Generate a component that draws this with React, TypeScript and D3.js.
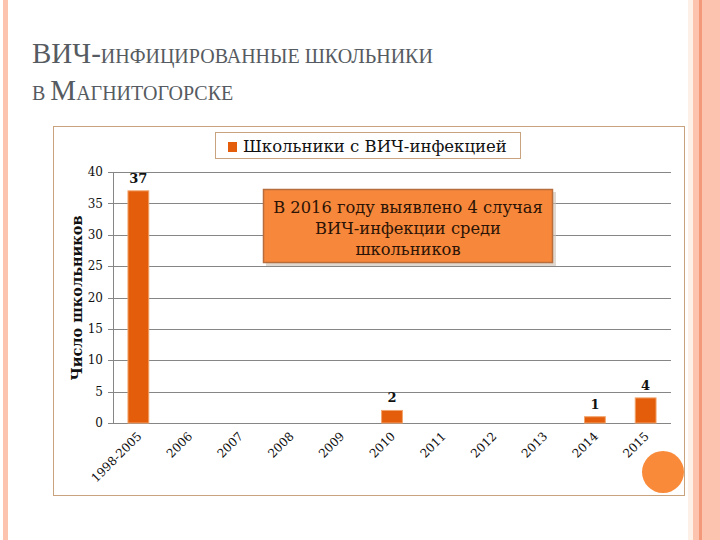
import { useRef, useEffect } from 'react';
import * as d3 from 'd3';

const categories = ['1998-2005', '2006', '2007', '2008', '2009', '2010', '2011', '2012', '2013', '2014', '2015'];
const values = [37, 0, 0, 0, 0, 2, 0, 0, 0, 1, 4];
const yTicks = [0, 5, 10, 15, 20, 25, 30, 35, 40];
const seriesName = 'Школьники с ВИЧ-инфекцией';
const noteLines = ['В 2016 году выявлено 4 случая', 'ВИЧ-инфекции среди', 'школьников'];

const FONT = '"DejaVu Serif", serif';
const TITLE_FONT = '"Liberation Serif", serif';

function drawChart(svgEl: SVGSVGElement) {
  const svg = d3.select(svgEl);
  svg.selectAll('*').remove();

  // slide background
  svg.append('rect').attr('width', 720).attr('height', 540).attr('fill', '#ffffff');
  svg.append('rect').attr('x', 3).attr('y', 0).attr('width', 5).attr('height', 540).attr('fill', '#fcc3ae');
  svg.append('rect').attr('x', 688).attr('y', 0).attr('width', 5).attr('height', 540).attr('fill', '#fdf0e6');
  svg.append('rect').attr('x', 693).attr('y', 0).attr('width', 27).attr('height', 540).attr('fill', '#fcc4ae');
  svg.append('rect').attr('x', 699).attr('y', 0).attr('width', 3).attr('height', 540).attr('fill', '#f39878');

  // title with small caps
  const title = svg.append('text')
    .attr('font-family', TITLE_FONT)
    .attr('fill', '#565b61');
  const l1 = title.append('tspan').attr('x', 32).attr('y', 63);
  l1.append('tspan').attr('font-size', 29).text('ВИЧ-');
  l1.append('tspan').attr('font-size', 20).text('ИНФИЦИРОВАННЫЕ ШКОЛЬНИКИ');
  const l2 = title.append('tspan').attr('x', 32).attr('y', 100);
  l2.append('tspan').attr('font-size', 20).text('В ');
  l2.append('tspan').attr('font-size', 29).text('М');
  l2.append('tspan').attr('font-size', 20).text('АГНИТОГОРСКЕ');

  // chart frame
  svg.append('rect')
    .attr('x', 53.5).attr('y', 126.5).attr('width', 631).attr('height', 369)
    .attr('fill', '#ffffff').attr('stroke', '#c9a27e').attr('stroke-width', 1);

  const left = 113, right = 671, top = 172, bottom = 423;

  const x = d3.scaleBand<string>()
    .domain(categories)
    .range([left, right])
    .paddingInner(0.59)
    .paddingOuter(0.295);

  const y = d3.scaleLinear().domain([0, 40]).range([bottom, top]);

  // gridlines
  svg.append('g')
    .selectAll('line')
    .data(yTicks)
    .join('line')
    .attr('x1', left - 5)
    .attr('x2', right)
    .attr('y1', (d) => Math.round(y(d)) + 0.5)
    .attr('y2', (d) => Math.round(y(d)) + 0.5)
    .attr('stroke', '#868686')
    .attr('stroke-width', 1);

  svg.append('line')
    .attr('x1', left + 0.5).attr('x2', left + 0.5)
    .attr('y1', top).attr('y2', bottom)
    .attr('stroke', '#868686');

  svg.append('g')
    .selectAll('text')
    .data(yTicks)
    .join('text')
    .attr('x', left - 10)
    .attr('y', (d) => y(d))
    .attr('dy', '0.35em')
    .attr('text-anchor', 'end')
    .attr('font-family', FONT)
    .attr('font-size', 12)
    .attr('fill', '#111')
    .text((d) => d);

  // y axis title
  svg.append('text')
    .attr('transform', `translate(82,298) rotate(-90)`)
    .attr('text-anchor', 'middle')
    .attr('font-family', FONT)
    .attr('font-weight', 'bold')
    .attr('font-size', 14.5)
    .attr('fill', '#111')
    .text('Число школьников');

  // bars
  const data = categories.map((c, i) => ({ c, v: values[i] }));
  svg.append('g')
    .selectAll('rect')
    .data(data.filter((d) => d.v > 0))
    .join('rect')
    .attr('x', (d) => x(d.c)!)
    .attr('y', (d) => y(d.v))
    .attr('width', x.bandwidth())
    .attr('height', (d) => bottom - y(d.v))
    .attr('fill', '#e35d0a')
    .attr('stroke', '#f2a36a')
    .attr('stroke-width', 1);

  svg.append('g')
    .selectAll('text')
    .data(data.filter((d) => d.v > 0))
    .join('text')
    .attr('x', (d) => x(d.c)! + x.bandwidth() / 2)
    .attr('y', (d) => y(d.v) - 8)
    .attr('text-anchor', 'middle')
    .attr('font-family', FONT)
    .attr('font-weight', 'bold')
    .attr('font-size', 13)
    .attr('fill', '#111')
    .text((d) => d.v);

  // x labels
  svg.append('g')
    .selectAll('text')
    .data(categories)
    .join('text')
    .attr('transform', (d) => `translate(${x(d)! + x.bandwidth() / 2 + 4},${bottom + 14}) rotate(-45)`)
    .attr('text-anchor', 'end')
    .attr('font-family', FONT)
    .attr('font-size', 12)
    .attr('fill', '#111')
    .text((d) => d);

  // legend
  svg.append('rect')
    .attr('x', 215.5).attr('y', 132.5).attr('width', 305).attr('height', 26)
    .attr('fill', '#ffffff').attr('stroke', '#c9a27e');
  svg.append('rect')
    .attr('x', 228).attr('y', 142).attr('width', 9).attr('height', 10)
    .attr('fill', '#e35d0a');
  svg.append('text')
    .attr('x', 243).attr('y', 152)
    .attr('font-family', FONT)
    .attr('font-size', 16.5)
    .attr('fill', '#111')
    .text(seriesName);

  // annotation
  svg.append('rect')
    .attr('x', 266).attr('y', 192).attr('width', 290).attr('height', 74)
    .attr('fill', '#c9bfb4').attr('opacity', 0.6);
  svg.append('rect')
    .attr('x', 263.5).attr('y', 189.5).attr('width', 289).attr('height', 73)
    .attr('fill', '#f7873a').attr('stroke', '#b86e3c').attr('stroke-width', 1.5);
  svg.append('g')
    .selectAll('text')
    .data(noteLines)
    .join('text')
    .attr('x', 408)
    .attr('y', (_, i) => 213 + i * 21)
    .attr('text-anchor', 'middle')
    .attr('font-family', FONT)
    .attr('font-size', 16.3)
    .attr('fill', '#2b1306')
    .text((d) => d);

  // decorative circle
  svg.append('circle')
    .attr('cx', 663).attr('cy', 472).attr('r', 21)
    .attr('fill', '#f88a3a');
}

export default function App() {
  const ref = useRef<SVGSVGElement>(null);
  useEffect(() => {
    if (ref.current) drawChart(ref.current);
  }, []);
  return (
    <svg
      ref={ref}
      width={720}
      height={540}
      style={{ position: 'absolute', left: 0, top: 0 }}
    />
  );
}
